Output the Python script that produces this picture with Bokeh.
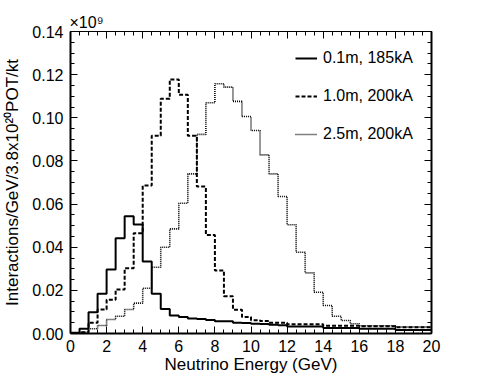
import numpy as np
from bokeh.plotting import figure
from bokeh.models import LinearAxis, FixedTicker, CustomJSTickFormatter
from bokeh.embed import file_html
from bokeh.resources import INLINE

# ---- data (bins of 0.5 GeV from 0 to 20 GeV) ----
bin_edges = [i * 0.5 for i in range(41)]

series_01m_185kA = [
    0.0004, 0.0022, 0.0099, 0.0184, 0.0297, 0.0442, 0.0544, 0.0505,
    0.0334, 0.0184, 0.0114, 0.0083, 0.0076, 0.0070, 0.0067, 0.0063,
    0.0057, 0.0057, 0.0050, 0.0049, 0.0045, 0.0044, 0.0040, 0.0038,
    0.0033, 0.0033, 0.0032, 0.0032, 0.0025, 0.0025, 0.0025, 0.0025,
    0.0022, 0.0022, 0.0022, 0.0022, 0.0016, 0.0016, 0.0016, 0.0016,
]
series_10m_200kA = [
    0.0000, 0.0006, 0.0050, 0.0111, 0.0156, 0.0204, 0.0303, 0.0465,
    0.0686, 0.0917, 0.1088, 0.1178, 0.1107, 0.0917, 0.0681, 0.0457,
    0.0292, 0.0173, 0.0110, 0.0076, 0.0062, 0.0058, 0.0050, 0.0050,
    0.0043, 0.0043, 0.0043, 0.0043, 0.0036, 0.0036, 0.0036, 0.0036,
    0.0034, 0.0034, 0.0034, 0.0034, 0.0029, 0.0029, 0.0029, 0.0029,
]
series_25m_200kA = [
    0.0000, 0.0005, 0.0022, 0.0037, 0.0065, 0.0080, 0.0111, 0.0141,
    0.0210, 0.0307, 0.0400, 0.0485, 0.0604, 0.0740, 0.0923, 0.1070,
    0.1158, 0.1142, 0.1076, 0.1006, 0.0941, 0.0828, 0.0740, 0.0635,
    0.0504, 0.0377, 0.0281, 0.0191, 0.0130, 0.0080, 0.0060, 0.0045,
    0.0036, 0.0036, 0.0036, 0.0036, 0.0030, 0.0030, 0.0030, 0.0030,
]
legend_labels = ["0.1m, 185kA", "1.0m, 200kA", "2.5m, 200kA"]

x_ticks = [0, 2, 4, 6, 8, 10, 12, 14, 16, 18, 20]
x_tick_labels = ["0", "2", "4", "6", "8", "10", "12", "14", "16", "18", "20"]
y_ticks = [0.0, 0.02, 0.04, 0.06, 0.08, 0.10, 0.12, 0.14]
y_tick_labels = ["0.00", "0.02", "0.04", "0.06", "0.08", "0.10", "0.12", "0.14"]
x_minor = [i * 0.5 for i in range(41)]
y_minor = [i * 0.005 for i in range(29)]

FONT = "Liberation Sans"

p = figure(width=479, height=379, x_range=(0, 20), y_range=(0, 0.14),
           output_backend="svg", toolbar_location=None,
           min_border_left=67, min_border_right=48,
           min_border_top=31, min_border_bottom=46,
           title="\u00d710\u2079",
           x_axis_label="Neutrino Energy (GeV)",
           y_axis_label="Interactions/GeV/3.8x10\u00b2\u2070POT/kt")
p.grid.visible = False
p.outline_line_color = None
p.background_fill_color = "white"
p.border_fill_color = "white"

p.title.align = "left"
p.title.text_font = FONT
p.title.text_font_size = "16px"
p.title.text_font_style = "normal"
p.title.text_color = "black"
p.title.standoff = 2
p.title.offset = -1

def style_axis(ax, ticks, minor, line_width):
    ax.ticker = FixedTicker(ticks=ticks, minor_ticks=minor)
    ax.axis_line_color = "black"
    ax.axis_line_width = line_width
    ax.major_tick_line_color = "black"
    ax.minor_tick_line_color = "black"
    ax.major_tick_in = 7
    ax.major_tick_out = 0
    ax.minor_tick_in = 4
    ax.minor_tick_out = 0
    ax.major_label_text_font = FONT
    ax.major_label_text_font_size = "16px"
    ax.major_label_text_color = "black"
    ax.axis_label_text_font = FONT
    ax.axis_label_text_font_size = "17px"
    ax.axis_label_text_font_style = "normal"
    ax.axis_label_text_color = "black"

xa = p.xaxis[0]
style_axis(xa, x_ticks, x_minor, 2)
xa.major_label_overrides = {t: l for t, l in zip(x_ticks, x_tick_labels)}
xa.major_label_standoff = 6
xa.axis_label_standoff = 0

ya = p.yaxis[0]
style_axis(ya, y_ticks, y_minor, 2)
ya.major_label_overrides = {t: l for t, l in zip(y_ticks, y_tick_labels)}
ya.major_label_standoff = 7
ya.axis_label_standoff = 7

blank = CustomJSTickFormatter(code="return ''")
top = LinearAxis(formatter=blank)
style_axis(top, x_ticks, x_minor, 1)
top.major_label_text_color = None
top.major_label_text_font_size = "1px"
top.major_label_standoff = 0
p.add_layout(top, "above")

right = LinearAxis(formatter=blank)
style_axis(right, y_ticks, y_minor, 2)
right.major_label_text_color = None
right.major_label_text_font_size = "1px"
right.major_label_standoff = 0
p.add_layout(right, "right")

def hist(vals):
    return list(bin_edges), list(vals) + [vals[-1]]

xs, ys = hist(series_01m_185kA)
p.step(xs, ys, mode="after", line_color="black", line_width=2,
       legend_label=legend_labels[0])
xs, ys = hist(series_10m_200kA)
p.step(xs, ys, mode="after", line_color="black", line_width=2,
       line_dash="4 2", legend_label=legend_labels[1])
xs, ys = hist(series_25m_200kA)
p.step(xs, ys, mode="after", line_color="black", line_width=1.6,
       line_dash="1 1", legend_label=legend_labels[2])

lg = p.legend[0]
lg.location = (225, 189)
lg.border_line_color = None
lg.background_fill_alpha = 0
lg.padding = 0
lg.margin = 0
lg.spacing = 18
lg.label_height = 20
lg.glyph_height = 20
lg.glyph_width = 22
lg.label_standoff = 6
lg.label_text_font = FONT
lg.label_text_font_size = "16px"
lg.label_text_color = "black"

open("out.html", "w").write(file_html(p, INLINE))
